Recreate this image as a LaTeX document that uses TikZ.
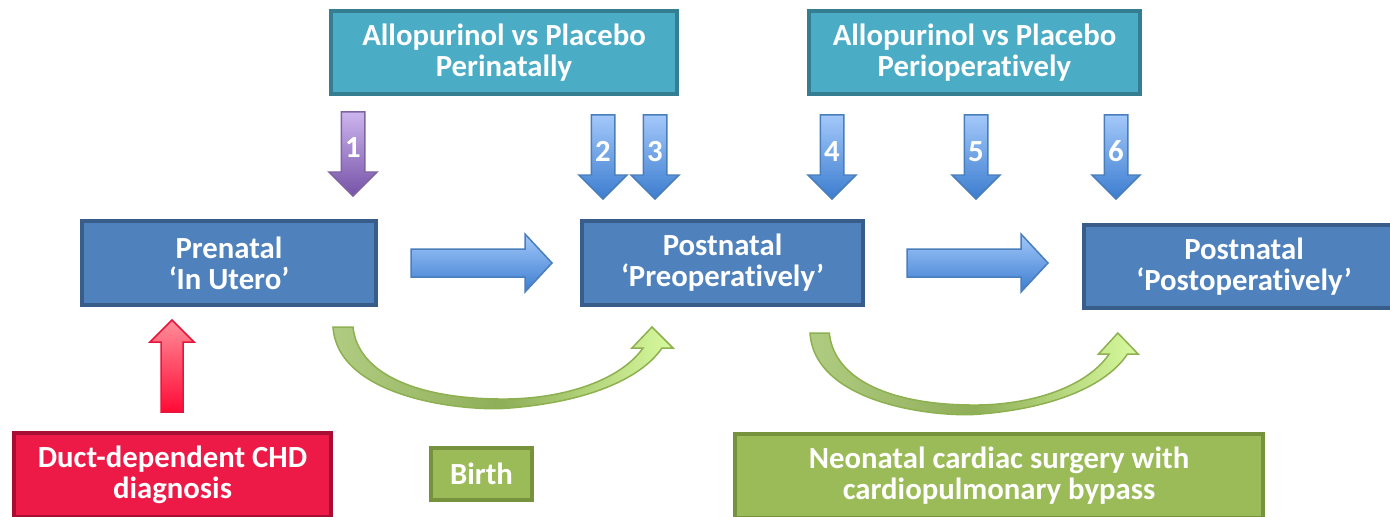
\documentclass[tikz,border=0pt]{standalone}
\usepackage{fontspec}
\setmainfont{Carlito}[Ligatures={TeX,NoCommon}]

\definecolor{tealfill}{HTML}{4BACC6}
\definecolor{tealline}{HTML}{357D91}
\definecolor{bluefill}{HTML}{4F81BD}
\definecolor{blueline}{HTML}{385D8A}
\definecolor{greenfill}{HTML}{9BBB59}
\definecolor{greenline}{HTML}{76923C}
\definecolor{redfill}{HTML}{ED1947}
\definecolor{redline}{HTML}{A80E33}
\definecolor{dntop}{HTML}{A3C8FA}
\definecolor{dnbot}{HTML}{3C7DD0}
\definecolor{dnline}{HTML}{4A7EBB}
\definecolor{purtop}{HTML}{CCB5EE}
\definecolor{purbot}{HTML}{7652A8}
\definecolor{purline}{HTML}{8064A2}
\definecolor{redtop}{HTML}{FF8E9A}
\definecolor{redbot}{HTML}{FF0A35}
\definecolor{redarr}{HTML}{E4163C}
\definecolor{bendtail}{HTML}{B0CC82}
\definecolor{bendmid}{HTML}{8FAE58}
\definecolor{bendhead}{HTML}{D8FA9E}
\definecolor{bendline}{HTML}{8DB050}

\begin{document}
\begin{tikzpicture}[x=0.02cm,y=-0.02cm,
  every node/.style={font=\fontsize{17.5}{17.6}\selectfont\bfseries,text=white,align=center,inner sep=0pt},
  box/.style={line width=0.08cm,minimum height=1.68cm},
  tealbox/.style={box,draw=tealline,fill=tealfill,minimum height=1.66cm},
  bluebox/.style={box,draw=blueline,fill=bluefill},
  greenbox/.style={box,draw=greenline,fill=greenfill},
  redbox/.style={box,draw=redline,fill=redfill},
  dnarrow/.style={draw=dnline,line width=0.03cm,top color=dntop,bottom color=dnbot},
  purarrow/.style={draw=purline,line width=0.03cm,top color=purtop,bottom color=purbot},
  rtarrow/.style={draw=dnline,line width=0.03cm,top color=dntop,bottom color=dnbot},
  uparrow/.style={draw=redarr,line width=0.03cm,top color=redtop,bottom color=redbot},
  bendarrow/.style={draw=bendline,line width=0.03cm,left color=bendtail,right color=bendhead,middle color=bendmid}]
  \clip (0,0) rectangle (1390,517);

  % treatment boxes
  \node[tealbox,minimum width=6.92cm] (peri) at (504,52.5) {Allopurinol vs Placebo\\Perinatally};
  \node[tealbox,minimum width=6.62cm] (perio) at (974.5,52.5) {Allopurinol vs Placebo\\Perioperatively};

  % time line
  \node[bluebox,minimum width=5.88cm] (prenatal) at (229,263) {Prenatal\\‘In Utero’};
  \node[bluebox,minimum width=5.62cm] (preop) at (722.5,263) {Postnatal\\‘Preoperatively’};
  \node[bluebox,minimum width=6.4cm] (postop) at (1244,266.5) {Postnatal\\‘Postoperatively’};

  % events
  \node[redbox,minimum width=6.34cm] (chd) at (172.5,475) {Duct-dependent CHD\\diagnosis};
  \node[greenbox,minimum width=2.02cm,minimum height=1.04cm] (birth) at (481.5,474) {Birth};
  \node[greenbox,minimum width=10.56cm] (surgery) at (999,476) {Neonatal cardiac surgery with\\cardiopulmonary bypass};

  % time points
  \path[purarrow] (341.25,112) -- (364.75,112) -- (364.75,172) -- (377,172) -- (353,196) -- (329,172) -- (341.25,172) -- cycle;
  \node (num1) at (353,148) {1};
  \foreach \cx/\n in {603/2,655/3,832/4,976/5,1116/6} {
    \path[dnarrow] ({\cx-11.75},115) -- ({\cx+11.75},115) -- ({\cx+11.75},175) -- ({\cx+24},175)
      -- (\cx,199) -- ({\cx-24},175) -- ({\cx-11.75},175) -- cycle;
    \node (num\n) at (\cx,151.5) {\n};
  }

  % block arrows
  \path[rtarrow] (411,249) -- (525,249) -- (525,234) -- (552,263) -- (525,292) -- (525,277) -- (411,277) -- cycle;
  \path[rtarrow] (907,249) -- (1021,249) -- (1021,234) -- (1048,263) -- (1021,292) -- (1021,277) -- (907,277) -- cycle;
  \path[uparrow] (161,412) -- (161,342) -- (150,342) -- (172,320) -- (194,342) -- (183,342) -- (183,412) -- cycle;

  % curved arrows
  \foreach \sx/\sy/\k in {333/327/1,810/333/0.965} {
    \begin{scope}[shift={(\sx,\sy)},xscale=\k]
      \path[bendarrow] (0,0) .. controls (5,73) and (137,85) .. (177,81)
        .. controls (252,75) and (307,53) .. (329,21)
        -- (340,21) -- (319,0) -- (299,21) -- (310,21)
        .. controls (289,51) and (237,71) .. (175,72)
        .. controls (87,73) and (25,48) .. (20,0) -- cycle;
    \end{scope}
  }
\end{tikzpicture}
\end{document}
